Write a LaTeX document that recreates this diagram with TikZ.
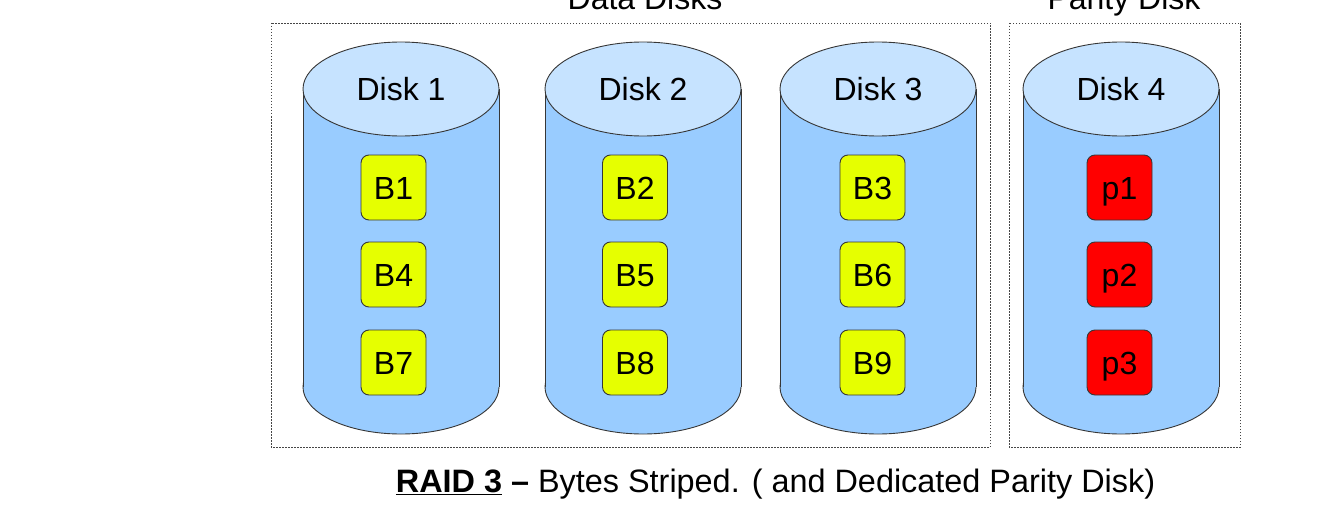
\documentclass[tikz,border=0pt]{standalone}
\usepackage{fontspec}
\setmainfont{Liberation Sans}
\definecolor{sidecol}{RGB}{153,204,255}
\definecolor{topcol}{RGB}{198,227,255}
\definecolor{edgecol}{RGB}{55,55,55}
\definecolor{blockyel}{RGB}{230,255,0}
\definecolor{blockred}{RGB}{255,0,0}
\definecolor{boxgray}{RGB}{70,70,70}
\tikzset{
  groupbox/.style={draw=boxgray, line width=0.8pt, dash pattern=on 1.5pt off 1.5pt},
  disklabel/.style={anchor=base, inner sep=0pt, font=\fontsize{32}{38}\selectfont},
  blockbox/.style={draw=edgecol, line width=0.9pt, rounded corners=8pt, minimum width=65pt, minimum height=65pt, inner sep=0pt, text height=23pt, text depth=0pt, font=\fontsize{32}{38}\selectfont},
  datablock/.style={blockbox, fill=blockyel},
  parblock/.style={blockbox, fill=blockred},
  titletext/.style={anchor=base, inner sep=0pt, font=\fontsize{32}{38}\selectfont},
  captiontext/.style={anchor=base, inner sep=0pt, font=\fontsize{32.4}{38}\selectfont}
}
% cylinder: center x, top y, bottom y
\newcommand{\mycyl}[3]{%
  \fill[sidecol, draw=edgecol, line width=0.9pt] (#1,#3) ellipse [x radius=98pt, y radius=47pt];
  \fill[sidecol] (#1-98,#2) rectangle (#1+98,#3);
  \draw[edgecol, line width=0.9pt] (#1-98,#2) -- (#1-98,#3);
  \draw[edgecol, line width=0.9pt] (#1+98,#2) -- (#1+98,#3);
  \filldraw[fill=topcol, draw=edgecol, line width=0.9pt] (#1,#2) ellipse [x radius=98pt, y radius=47pt];
}
\begin{document}
\begin{tikzpicture}[x=1pt,y=-1pt]
\useasboundingbox[fill=white] (0,0) rectangle (1327,508);

\node[titletext] (datatitle) at (645,10) {Data Disks};
\node[titletext] (paritytitle) at (1124,10) {Parity Disk};

\draw[groupbox] (271,23) rectangle (990,447);
\draw[groupbox] (1009,23) rectangle (1240,447);

\mycyl{401}{89}{387}
\mycyl{643}{89}{387}
\mycyl{878}{89}{387}
\mycyl{1121}{89}{387}

\node[disklabel] (d1) at (401,101) {Disk 1};
\node[disklabel] (d2) at (643,101) {Disk 2};
\node[disklabel] (d3) at (878,101) {Disk 3};
\node[disklabel] (d4) at (1121,101) {Disk 4};

\node[datablock] (b1) at (393.5,187.5) {B1};
\node[datablock] (b4) at (393.5,274.5) {B4};
\node[datablock] (b7) at (393.5,362.5) {B7};
\node[datablock] (b2) at (635,187.5) {B2};
\node[datablock] (b5) at (635,274.5) {B5};
\node[datablock] (b8) at (635,362.5) {B8};
\node[datablock] (b3) at (872.5,187.5) {B3};
\node[datablock] (b6) at (872.5,274.5) {B6};
\node[datablock] (b9) at (872.5,362.5) {B9};
\node[parblock] (p1) at (1119.5,187.5) {p1};
\node[parblock] (p2) at (1119.5,274.5) {p2};
\node[parblock] (p3) at (1119.5,362.5) {p3};

\node[captiontext] (caption) at (775.5,492) {\textbf{\underline{RAID 3} –} Bytes Striped. ( and Dedicated Parity Disk)};
\end{tikzpicture}
\end{document}
